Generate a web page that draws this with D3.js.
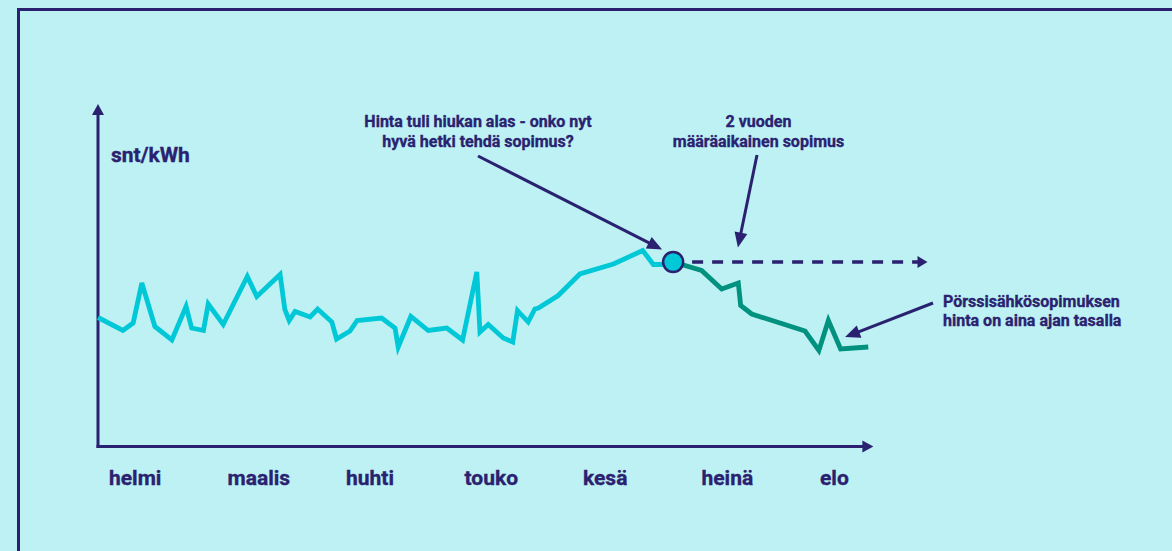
<!DOCTYPE html>
<html>
<head>
<meta charset="utf-8">
<script src="https://cdn.jsdelivr.net/npm/d3@7"></script>
<style>
  html, body { margin: 0; padding: 0; background: #bdf1f4; }
  svg { display: block; }
  text { font-family: Roboto, "Open Sans", sans-serif; font-weight: 700; fill: #2a2270; stroke: #2a2270; stroke-width: 0.35px; }
</style>
</head>
<body>
<svg id="chart" width="1172" height="551"></svg>
<script>
// month labels on the x axis
const months = ["helmi", "maalis", "huhti", "touko", "kesä", "heinä", "elo"];

// spot price so far (day from start of helmi, snt/kWh)
const spotDays = [0, 6.3, 8.9, 11.1, 14.4, 18.7, 22.3, 23.7, 26.7, 27.9, 31.7, 37.8, 40.2, 46.1, 47.3, 48.4, 49.9,
  53.7, 55.6, 59.2, 60.4, 63.8, 65.6, 71.8, 75.2, 76.0, 79.2, 83.6, 88.3, 92.3, 95.9, 96.7, 98.8, 102.6, 105.0,
  106.2, 107.0, 108.9, 110.6, 111.5, 116.5, 122.0, 130.5, 137.9, 140.6, 142.7, 145.6];
const spotPrices = [25.8, 23.2, 24.7, 32.7, 24.0, 21.3, 28.0, 23.7, 23.2, 28.5, 24.4, 34.0, 30.0, 34.4, 27.4, 25.2, 27.0,
  25.9, 27.5, 24.9, 21.5, 23.1, 25.2, 25.7, 23.7, 19.9, 26.0, 23.2, 23.7, 21.3, 34.9, 22.9, 24.4, 21.7, 20.9,
  27.2, 26.5, 24.9, 27.5, 27.7, 30.2, 34.5, 36.5, 39.2, 36.4, 36.4, 36.9];

// spot price after the contract moment
const laterDays = [145.6, 152.8, 157.9, 162.1, 162.7, 165.5, 179.0, 182.5, 184.9, 188.0, 195.0];
const laterPrices = [36.9, 35.2, 31.5, 32.7, 28.2, 26.5, 23.1, 19.2, 25.2, 19.5, 19.9];

// fixed 2 year contract
const fixedPrice = 36.9;
const fixedFrom = 145.6;
const fixedTo = 210;

const yLabel = "snt/kWh";
const noteDip = ["Hinta tuli hiukan alas - onko nyt", "hyvä hetki tehdä sopimus?"];
const noteFixed = ["2 vuoden", "määräaikainen sopimus"];
const noteSpot = ["Pörssisähkösopimuksen", "hinta on aina ajan tasalla"];

const navy = "#2a2270";
const cyan = "#00c8d7";
const green = "#00917f";

const svg = d3.select("#chart");

// frame
svg.append("rect")
  .attr("x", 18.5).attr("y", 9.5)
  .attr("width", 1200).attr("height", 600)
  .attr("fill", "none")
  .attr("stroke", navy)
  .attr("stroke-width", 3);

const x = d3.scaleLinear().domain([0, 210]).range([98, 98 + 210 * 3.95]);
const y = d3.scaleLinear().domain([0, 40]).range([446.5, 246.5]);
const monthX = d3.scalePoint().domain(months).range([109, 109 + 6 * 118.5]);

function arrowHead(x1, y1, x2, y2, len, w) {
  const a = Math.atan2(y2 - y1, x2 - x1);
  const bx = x2 - len * Math.cos(a), by = y2 - len * Math.sin(a);
  const px = Math.sin(a) * w / 2, py = -Math.cos(a) * w / 2;
  return [[x2, y2], [bx + px, by + py], [bx - px, by - py]];
}

function arrow(x1, y1, x2, y2, len, w) {
  const a = Math.atan2(y2 - y1, x2 - x1);
  svg.append("line")
    .attr("x1", x1).attr("y1", y1)
    .attr("x2", x2 - (len - 2) * Math.cos(a)).attr("y2", y2 - (len - 2) * Math.sin(a))
    .attr("stroke", navy).attr("stroke-width", 3);
  svg.append("polygon")
    .attr("points", arrowHead(x1, y1, x2, y2, len, w).map(p => p.join(",")).join(" "))
    .attr("fill", navy);
}

// axes
const axisTop = y(68.5);
const axisEnd = x(196.3);
arrow(x(0), y(0) + 1.5, x(0), axisTop, 11, 12);
arrow(x(0) - 1.5, y(0), axisEnd, y(0), 11, 12);

svg.append("text")
  .attr("x", 111).attr("y", 161.5)
  .attr("font-size", 21)
  .text(yLabel);

svg.selectAll(".month")
  .data(months)
  .enter().append("text")
  .attr("class", "month")
  .attr("x", d => monthX(d))
  .attr("y", 485)
  .attr("font-size", 21)
  .text(d => d);

// lines
const line = d3.line().x(d => x(d[0])).y(d => y(d[1]));

svg.append("path")
  .datum(d3.zip(spotDays, spotPrices))
  .attr("d", line)
  .attr("fill", "none")
  .attr("stroke", cyan)
  .attr("stroke-width", 4.8);

svg.append("path")
  .datum(d3.zip(laterDays, laterPrices))
  .attr("d", line)
  .attr("fill", "none")
  .attr("stroke", green)
  .attr("stroke-width", 4.8);

// dashed fixed-price line
const cx = x(fixedFrom), cy = y(fixedPrice);
svg.append("line")
  .attr("x1", cx + 19).attr("y1", cy)
  .attr("x2", x(fixedTo) - 9).attr("y2", cy)
  .attr("stroke", navy)
  .attr("stroke-width", 3.5)
  .attr("stroke-dasharray", "11,9");
svg.append("polygon")
  .attr("points", arrowHead(cx, cy, x(fixedTo), cy, 10, 12).map(p => p.join(",")).join(" "))
  .attr("fill", navy);

svg.append("circle")
  .attr("cx", cx).attr("cy", cy)
  .attr("r", 10)
  .attr("fill", cyan)
  .attr("stroke", navy)
  .attr("stroke-width", 2.5);

// annotations
function note(lines, tx, ty, anchor) {
  const t = svg.append("text")
    .attr("font-size", 16)
    .attr("text-anchor", anchor);
  lines.forEach((l, i) => {
    t.append("tspan").attr("x", tx).attr("y", ty + i * 19.5).text(l);
  });
}

note(noteDip, 478, 127, "middle");
arrow(478, 156, cx - 11, cy - 12.5, 15, 13);

note(noteFixed, 758.5, 127.3, "middle");
arrow(757, 155, x(162), cy - 14.5, 15, 13);

note(noteSpot, 943, 306.7, "start");
arrow(933, 303, x(laterDays[9]) + 4.5, y(laterPrices[9]) - 12, 15, 13);
</script>
</body>
</html>
